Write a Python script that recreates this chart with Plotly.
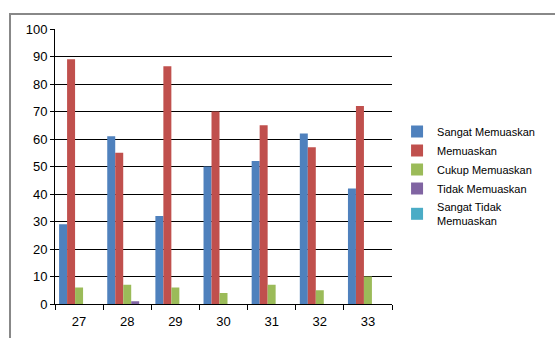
import plotly.graph_objects as go

categories = ["27", "28", "29", "30", "31", "32", "33"]
sangat_memuaskan = [29, 61, 32, 50, 52, 62, 42]
memuaskan = [89, 55, 86.5, 70, 65, 57, 72]
cukup_memuaskan = [6, 7, 6, 4, 7, 5, 10]
tidak_memuaskan = [0, 1, 0, 0, 0, 0, 0]
sangat_tidak_memuaskan = [0, 0, 0, 0, 0, 0, 0]

series = [
    ("Sangat Memuaskan", sangat_memuaskan, "#4F81BD"),
    ("Memuaskan", memuaskan, "#C0504D"),
    ("Cukup Memuaskan", cukup_memuaskan, "#9BBB59"),
    ("Tidak Memuaskan", tidak_memuaskan, "#8064A2"),
    ("Sangat Tidak<br>Memuaskan", sangat_tidak_memuaskan, "#4BACC6"),
]

fig = go.Figure()
for name, vals, color in series:
    fig.add_trace(go.Bar(x=categories, y=vals, name=name, marker_color=color,
                         marker_line_width=0))

fig.update_layout(
    width=555, height=338,
    margin=dict(l=55, r=163, t=29, b=34, autoexpand=False),
    paper_bgcolor="white", plot_bgcolor="white",
    barmode="group", bargap=0.17, bargroupgap=0,
    font=dict(family="Liberation Sans, Arial, sans-serif", size=12, color="black"),
    legend=dict(x=1.015, y=0.68, xanchor="left", yanchor="top",
                font=dict(size=11), tracegroupgap=0, itemwidth=30,
                bgcolor="rgba(0,0,0,0)"),
    xaxis=dict(showline=True, linecolor="black", linewidth=1,
               ticks="outside", tickcolor="black", ticklen=5,
               tickson="boundaries", showgrid=False,
               ticklabelstandoff=5, tickfont=dict(size=13)),
    yaxis=dict(range=[0, 100], dtick=10, showline=True, linecolor="black",
               linewidth=1, ticks="outside", tickcolor="black", ticklen=4,
               showgrid=True, gridcolor="black", gridwidth=1,
               tickfont=dict(size=13), zeroline=False),
    shapes=[dict(type="rect", xref="paper", yref="paper",
                 x0=-0.1335, x1=1.6, y0=-0.2, y1=1.0545,
                 line=dict(color="#888888", width=2), layer="below")],
)

fig.write_html("out.html")
